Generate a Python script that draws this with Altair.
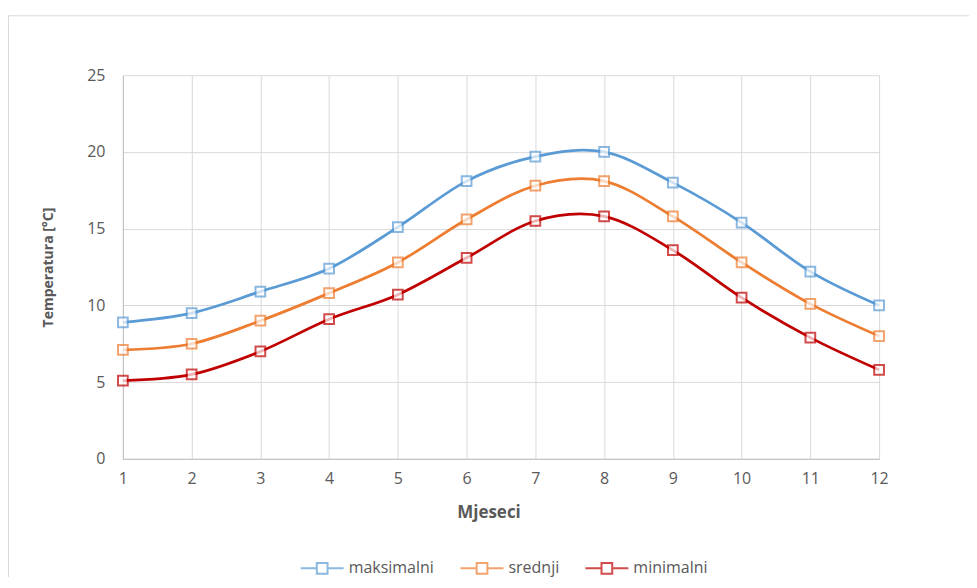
import altair as alt
import pandas as pd

months = list(range(1, 13))
series = ["maksimalni", "srednji", "minimalni"]
colors = ["#5b9bd5", "#ed7d31", "#c00000"]
maksimalni = [8.9, 9.5, 10.9, 12.4, 15.1, 18.1, 19.7, 20.0, 18.0, 15.4, 12.2, 10.0]
srednji = [7.1, 7.5, 9.0, 10.8, 12.8, 15.6, 17.8, 18.1, 15.8, 12.8, 10.1, 8.0]
minimalni = [5.1, 5.5, 7.0, 9.1, 10.7, 13.1, 15.5, 15.8, 13.6, 10.5, 7.9, 5.8]
y_ticks = [0, 5, 10, 15, 20, 25]

rows = []
for name, vals in zip(series, [maksimalni, srednji, minimalni]):
    for m, v in zip(months, vals):
        rows.append({"Mjesec": m, "Temperatura": v, "serija": name})
df = pd.DataFrame(rows)

FONT = "Open Sans"
W, H = 757, 384

leg_path = "M-1,0H-0.25M0.25,0H1M-0.25,-0.25H0.25V0.25H-0.25Z"
legend = alt.Legend(
    title=None, orient="none", direction="horizontal",
    legendX=177, legendY=471,
    symbolType=leg_path, symbolSize=1849, symbolStrokeWidth=2,
    symbolFillColor="transparent",
    labelFont=FONT, labelFontSize=16, labelColor="#595959",
    labelOffset=4, columnPadding=22,
)

color = alt.Color("serija:N", scale=alt.Scale(domain=series, range=colors), legend=legend)

x = alt.X(
    "Mjesec:Q",
    scale=alt.Scale(domain=[1, 12], nice=False, zero=False),
    axis=alt.Axis(
        values=months, title="Mjeseci", grid=True, ticks=False, labelFlush=False,
        labelPadding=12, titleX=366, titleY=54, titleBaseline="middle",
        titleAlign="center", titleFontSize=17,
    ),
)
y = alt.Y(
    "Temperatura:Q",
    scale=alt.Scale(domain=[0, 25], nice=False),
    axis=alt.Axis(
        values=y_ticks, title="Temperatura [°C]", grid=True, ticks=False,
        labelPadding=18, titleX=-74, titleY=192, titleBaseline="middle",
        titleAlign="center", titleAngle=-90, titleFontSize=14,
    ),
)

base = alt.Chart(df)
lines = base.mark_line(interpolate="cardinal", strokeWidth=2.75).encode(
    x=x, y=y, color=color, detail="serija:N"
)
points = base.mark_point(shape="square", filled=False, size=95, strokeWidth=2, fill="white").encode(
    x=x, y=y, color=color
)

frame_df = pd.DataFrame({"a": [0]})
frame_top = alt.Chart(frame_df).mark_rule(color="#d9d9d9", strokeWidth=1).encode(
    x=alt.value(-115), x2=alt.value(900), y=alt.value(-59.5)
)
frame_left = alt.Chart(frame_df).mark_rule(color="#d9d9d9", strokeWidth=1).encode(
    x=alt.value(-114.5), y=alt.value(-60), y2=alt.value(520)
)

chart = alt.layer(frame_top, frame_left, lines, points).properties(
    width=W, height=H,
    padding={"left": 115, "top": 67, "right": 90, "bottom": 118},
    autosize=alt.AutoSizeParams(type="none"),
).configure_view(stroke=None).configure_axis(
    labelFont=FONT, labelFontSize=16, labelColor="#595959",
    titleFont=FONT, titleFontWeight="bold", titleColor="#595959",
    gridColor="#d9d9d9", gridWidth=1, domainColor="#bfbfbf", domainWidth=1,
)

chart.save("out.html", embed_options={"renderer": "svg", "actions": False})
